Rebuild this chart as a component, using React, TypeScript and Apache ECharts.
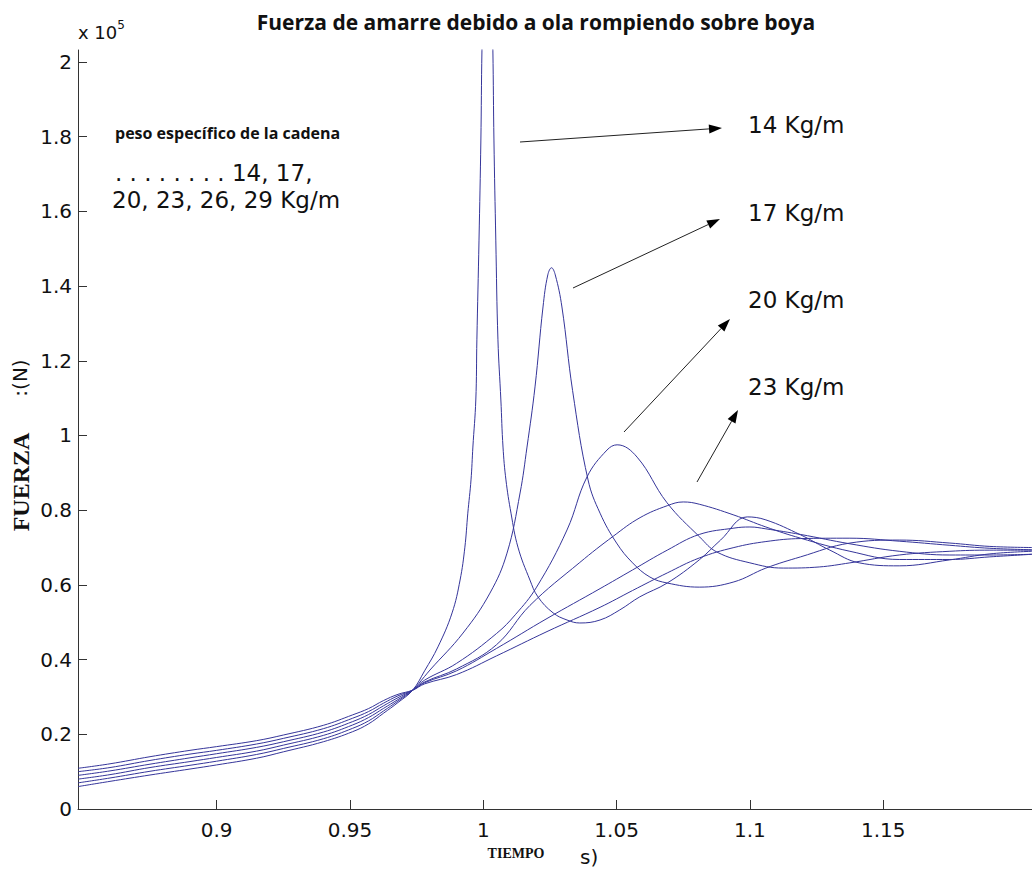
import React, { useEffect, useRef } from 'react';
import * as echarts from 'echarts';

// Mooring force (x 10^5 N) vs time (s) for six chain weights
const seriesNames = ['14 Kg/m', '17 Kg/m', '20 Kg/m', '23 Kg/m', '26 Kg/m', '29 Kg/m'];

// shared early part (before the curves cross)
const tEarly = [0.848, 0.86, 0.875, 0.89, 0.9, 0.915, 0.925, 0.94, 0.951, 0.957, 0.9625, 0.968, 0.9735];
const f14Early = [0.06, 0.074, 0.091, 0.107, 0.118, 0.136, 0.153, 0.18, 0.207, 0.228, 0.256, 0.285, 0.318];
const f17Early = [0.07, 0.083, 0.101, 0.117, 0.128, 0.146, 0.162, 0.188, 0.216, 0.236, 0.262, 0.289, 0.318];
const f20Early = [0.08, 0.092, 0.111, 0.127, 0.138, 0.155, 0.171, 0.197, 0.225, 0.245, 0.269, 0.293, 0.318];
const f23Early = [0.09, 0.102, 0.12, 0.137, 0.148, 0.165, 0.18, 0.206, 0.234, 0.253, 0.276, 0.298, 0.318];
const f26Early = [0.1, 0.111, 0.13, 0.147, 0.157, 0.174, 0.189, 0.215, 0.243, 0.261, 0.283, 0.303, 0.318];
const f29Early = [0.109, 0.121, 0.14, 0.157, 0.167, 0.183, 0.198, 0.224, 0.252, 0.269, 0.29, 0.307, 0.318];

// later part of each curve
const t14 = [0.978, 0.983, 0.9883, 0.9913, 0.9931, 0.9942, 0.9954, 0.9961, 0.9972, 0.9976, 0.9984, 0.9991, 0.9995,
  1.0005, 1.0016, 1.0027, 1.0036, 1.004, 1.0047, 1.0055, 1.0066, 1.0074, 1.0085, 1.0104, 1.013, 1.0175, 1.0205,
  1.0262, 1.0314, 1.0362, 1.0438, 1.0512, 1.0587, 1.069, 1.081, 1.089, 1.099, 1.106, 1.119, 1.13, 1.141, 1.156,
  1.175, 1.19, 1.206];
const f14 = [0.37, 0.434, 0.525, 0.613, 0.701, 0.792, 0.881, 0.969, 1.095, 1.256, 1.523, 1.791, 2.03,
  2.36, 2.55, 2.36, 2.03, 1.791, 1.523, 1.256, 1.095, 0.969, 0.881, 0.792, 0.701, 0.613, 0.568,
  0.525, 0.506, 0.498, 0.506, 0.533, 0.568, 0.605, 0.667, 0.72, 0.782, 0.774, 0.734, 0.693, 0.659, 0.651,
  0.667, 0.683, 0.69];

const t17 = [0.978, 0.98, 0.9924, 1.0025, 1.0089, 1.0138, 1.0164, 1.0194, 1.0224, 1.0242, 1.0256, 1.027, 1.0295,
  1.0335, 1.0393, 1.0438, 1.05, 1.056, 1.0625, 1.069, 1.081, 1.094, 1.106, 1.119, 1.1375, 1.156, 1.175, 1.19, 1.206];
const f17 = [0.355, 0.372, 0.471, 0.578, 0.685, 0.846, 0.969, 1.13, 1.344, 1.43, 1.449, 1.43, 1.344,
  1.12, 0.881, 0.792, 0.712, 0.659, 0.621, 0.605, 0.594, 0.608, 0.645, 0.675, 0.712, 0.72, 0.712, 0.703, 0.7];

const t20 = [0.978, 0.99, 1.005, 1.012, 1.02, 1.0314, 1.0389, 1.0464, 1.0502, 1.0577, 1.0689, 1.0812, 1.0876,
  1.1, 1.1125, 1.126, 1.1375, 1.156, 1.175, 1.19, 1.206];
const f20 = [0.345, 0.39, 0.47, 0.52, 0.594, 0.747, 0.889, 0.961, 0.975, 0.942, 0.82, 0.728, 0.688,
  0.659, 0.645, 0.648, 0.659, 0.68, 0.69, 0.693, 0.693];

const t23 = [0.978, 0.99, 1.005, 1.0175, 1.0362, 1.0487, 1.0588, 1.069, 1.075, 1.081, 1.094, 1.106, 1.119,
  1.1375, 1.156, 1.175, 1.19, 1.206];
const f23 = [0.34, 0.375, 0.44, 0.545, 0.66, 0.73, 0.78, 0.812, 0.822, 0.816, 0.787, 0.755, 0.725,
  0.69, 0.668, 0.668, 0.675, 0.682];

const t26 = [0.978, 0.99, 1.005, 1.0239, 1.0438, 1.056, 1.069, 1.081, 1.094, 1.1, 1.106, 1.119, 1.1375,
  1.156, 1.175, 1.19, 1.206];
const f26 = [0.338, 0.37, 0.43, 0.51, 0.59, 0.64, 0.693, 0.735, 0.752, 0.755, 0.75, 0.735, 0.71,
  0.69, 0.68, 0.68, 0.682];

const t29 = [0.978, 0.99, 1.005, 1.0239, 1.0438, 1.056, 1.069, 1.081, 1.094, 1.106, 1.119, 1.1375, 1.156,
  1.175, 1.19, 1.206];
const f29 = [0.335, 0.36, 0.41, 0.475, 0.54, 0.585, 0.632, 0.672, 0.7, 0.716, 0.724, 0.725, 0.717,
  0.706, 0.698, 0.694];

const xTicks = [0.9, 0.95, 1, 1.05, 1.1, 1.15];
const yTicks = [0, 0.2, 0.4, 0.6, 0.8, 1, 1.2, 1.4, 1.6, 1.8, 2];

const curves = [
  { name: seriesNames[0], t: [...tEarly, ...t14], f: [...f14Early, ...f14] },
  { name: seriesNames[1], t: [...tEarly, ...t17], f: [...f17Early, ...f17] },
  { name: seriesNames[2], t: [...tEarly, ...t20], f: [...f20Early, ...f20] },
  { name: seriesNames[3], t: [...tEarly, ...t23], f: [...f23Early, ...f23] },
  { name: seriesNames[4], t: [...tEarly, ...t26], f: [...f26Early, ...f26] },
  { name: seriesNames[5], t: [...tEarly, ...t29], f: [...f29Early, ...f29] },
];

const SANS = '"DejaVu Sans", sans-serif';
const TITLE_FONT = '"Open Sans", "Noto Sans", sans-serif';
const SERIF = '"Liberation Serif", "DejaVu Serif", serif';

function arrow(x1: number, y1: number, x2: number, y2: number) {
  const dx = x2 - x1;
  const dy = y2 - y1;
  const len = Math.hypot(dx, dy);
  const ux = dx / len;
  const uy = dy / len;
  const hl = 13;
  const hw = 4.5;
  const bx = x2 - ux * hl;
  const by = y2 - uy * hl;
  return [
    { type: 'line', shape: { x1, y1, x2: bx, y2: by }, style: { stroke: '#222', lineWidth: 1 } },
    {
      type: 'polygon',
      shape: { points: [[x2, y2], [bx - uy * hw, by + ux * hw], [bx + uy * hw, by - ux * hw]] },
      style: { fill: '#000' },
    },
  ];
}

function text(x: number, y: number, str: string, font: string, extra: any = {}) {
  return {
    type: 'text',
    x,
    y,
    ...extra,
    style: { text: str, font, fill: '#111', align: 'left', verticalAlign: 'middle', ...(extra.style || {}) },
  };
}

export default function App() {
  const ref = useRef<HTMLDivElement>(null);

  useEffect(() => {
    if (!ref.current) return;
    const chart = echarts.init(ref.current, undefined, { renderer: 'svg' });
    const fmt = (v: number) => String(Number(v.toFixed(2)));

    chart.setOption({
      animation: false,
      backgroundColor: '#fff',
      grid: { left: 78, top: 50, right: 0, bottom: 60, outerBoundsMode: 'none' },
      xAxis: {
        type: 'value',
        min: 0.848,
        max: 1.2058,
        axisLine: { show: true, lineStyle: { color: '#333', width: 1 } },
        axisTick: { show: true, inside: true, length: 9, customValues: xTicks, lineStyle: { color: '#333' } },
        axisLabel: {
          customValues: xTicks,
          formatter: fmt,
          margin: 11,
          color: '#111',
          fontFamily: SANS,
          fontSize: 20,
        },
        splitLine: { show: false },
      },
      yAxis: {
        type: 'value',
        min: 0,
        max: 2.032,
        axisLine: { show: true, lineStyle: { color: '#333', width: 1 } },
        axisTick: { show: true, inside: true, length: 9, customValues: yTicks, lineStyle: { color: '#333' } },
        axisLabel: {
          customValues: yTicks,
          formatter: fmt,
          margin: 6,
          color: '#111',
          fontFamily: SANS,
          fontSize: 20,
        },
        splitLine: { show: false },
      },
      series: curves.map((c) => ({
        name: c.name,
        type: 'line',
        data: c.t.map((t, i) => [t, c.f[i]]),
        showSymbol: false,
        smooth: 0.4,
        clip: true,
        lineStyle: { color: '#35359a', width: 1 },
        itemStyle: { color: '#35359a' },
      })),
      graphic: [
        text(536, 22, 'Fuerza de amarre debido a ola rompiendo sobre boya', `bold 21px ${TITLE_FONT}`, {
          style: { align: 'center' },
        }),
        {
          type: 'text',
          x: 78,
          y: 32,
          style: {
            text: 'x 10{s|5}',
            font: `18px ${SANS}`,
            fill: '#111',
            verticalAlign: 'middle',
            rich: { s: { fontSize: 12, fontFamily: SANS, verticalAlign: 'top', padding: [0, 0, 14, 0] } },
          },
        },
        text(21, 482, 'FUERZA', `bold 24px ${SERIF}`, { rotation: Math.PI / 2, style: { align: 'center' } }),
        text(20, 378, ':(N)', `20px ${SANS}`, { rotation: Math.PI / 2, style: { align: 'center' } }),
        text(516, 853, 'TIEMPO', `bold 14px ${SERIF}`, { style: { align: 'center' } }),
        text(580, 857, 's)', `20px ${SANS}`),
        text(115, 133, 'peso específico de la cadena', `bold 16px ${TITLE_FONT}`),
        text(115, 173, '. . . . . . . . 14, 17,', `23px ${SANS}`),
        text(112, 200, '20, 23, 26, 29 Kg/m', `23px ${SANS}`),
        text(748, 125, seriesNames[0], `23px ${SANS}`),
        text(748, 213, seriesNames[1], `23px ${SANS}`),
        text(748, 300, seriesNames[2], `23px ${SANS}`),
        text(748, 387, seriesNames[3], `23px ${SANS}`),
        ...arrow(520, 142, 722, 128),
        ...arrow(573, 288, 720, 219),
        ...arrow(624, 432, 730, 319),
        ...arrow(697, 482, 738, 410),
      ],
    });

    return () => chart.dispose();
  }, []);

  return (
    <div
      ref={ref}
      style={{ position: 'absolute', left: 0, top: 0, width: 1032, height: 869, background: '#fff' }}
    />
  );
}
